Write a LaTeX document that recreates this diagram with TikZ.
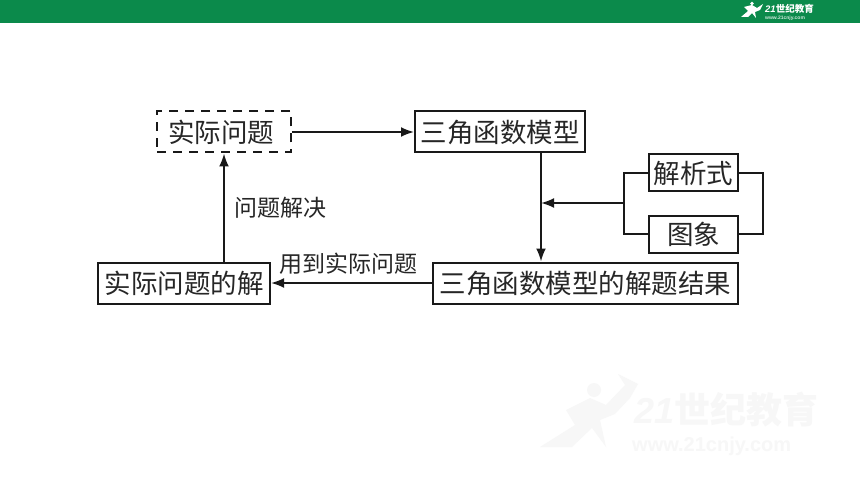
\documentclass[tikz,border=0pt]{standalone}
\usepackage{fontspec}
\setmainfont{Liberation Sans}
\newfontfamily\cjk{Noto Sans CJK SC}
\usetikzlibrary{arrows.meta}
\definecolor{hdr}{HTML}{0B8A4B}
\definecolor{wm}{HTML}{F7F7F7}
\tikzset{
  box/.style={draw=black!90,line width=2pt,fill=white,inner sep=0pt,minimum height=41pt,font=\cjk\fontsize{26.5}{28}\selectfont,text=black!85},
  dashbox/.style={box,dash pattern=on 9pt off 7pt},
  conn/.style={line width=2pt,draw=black!90},
  arr/.style={conn,-{Latex[length=13pt,width=10pt]}},
  lbl/.style={font=\cjk\fontsize{23}{25}\selectfont,text=black!85,inner sep=0pt},
  logotxt/.style={font=\cjk\bfseries\fontsize{9.5}{10}\selectfont,text=white,inner sep=0pt},
  logourl/.style={font=\bfseries\fontsize{5}{5}\selectfont,text=white!80!hdr,inner sep=0pt},
  wmtxt/.style={font=\cjk\bfseries\fontsize{36}{37}\selectfont,text=wm,inner sep=0pt}
}
\begin{document}
\begin{tikzpicture}[x=1pt,y=-1pt]
\useasboundingbox (0,0) rectangle (860,484);
\fill[white] (0,0) rectangle (860,484);
\fill[hdr] (0,0) rectangle (860,23.5);
% header logo
\fill[white] (741,17) -- (748,11) -- (744,7) -- (752,5) -- (757,8) -- (763,4) -- (760,10) -- (755,12) -- (756,18) -- (752,13) -- (748,17) -- cycle;
\fill[white] (752,3.5) circle (1.8);
\node[logotxt,anchor=west] (logo) at (765,8.5) {\fontspec{Liberation Sans}\bfseries\itshape 21\cjk 世纪教育};
\node[logourl,anchor=west] (logou) at (765,18) {www.21cnjy.com};
% watermark
\fill[wm] (540,447) -- (575,425) -- (566,410) -- (590,398) -- (606,405) -- (625,385) -- (618,374) -- (638,384) -- (630,398) -- (615,414) -- (600,420) -- (606,447) -- (592,428) -- (572,447) -- cycle;
\fill[wm] (594,390) circle (7);
\node[wmtxt,anchor=west] (wmark) at (634,410) {\fontspec{Liberation Sans}\bfseries\itshape 21\cjk 世纪教育};
\node[anchor=west,inner sep=0pt,text=wm,font=\bfseries\fontsize{20}{21}\selectfont] (wmurl) at (632,446) {www.21cnjy.com};
% boxes
\node[dashbox,minimum width=134pt] (real) at (224,132) {实际问题\kern6pt};
\node[box,minimum width=170pt] (model) at (500,132) {三角函数模型};
\node[box,minimum width=89pt,minimum height=37pt] (formula) at (693.5,173) {解析式};
\node[box,minimum width=89pt,minimum height=37pt] (graph) at (693.5,234) {图象};
\node[box,minimum width=305pt] (result) at (585.5,283) {三角函数模型的解题结果};
\node[box,minimum width=172pt] (sol) at (184,283) {实际问题的解};
% labels
\node[lbl] (l1) at (280,208) {问题解决};
\node[lbl] (l2) at (348,264) {用到实际问题};
% connectors
\coordinate (mid) at (541,203);
\coordinate (bl) at (624,203);
\draw[arr] (real.east) -- (model.west);
\draw[arr] (model.south -| mid) -- (result.north -| mid);
\draw[arr] (bl) -- (mid);
\draw[arr] (result.west) -- (sol.east);
\draw[arr] (sol.north -| 224,0) -- (real.south);
\draw[conn] (formula.west) -| (bl) |- (graph.west);
\draw[conn] (formula.east) -| (763,203) |- (graph.east);
\end{tikzpicture}
\end{document}
